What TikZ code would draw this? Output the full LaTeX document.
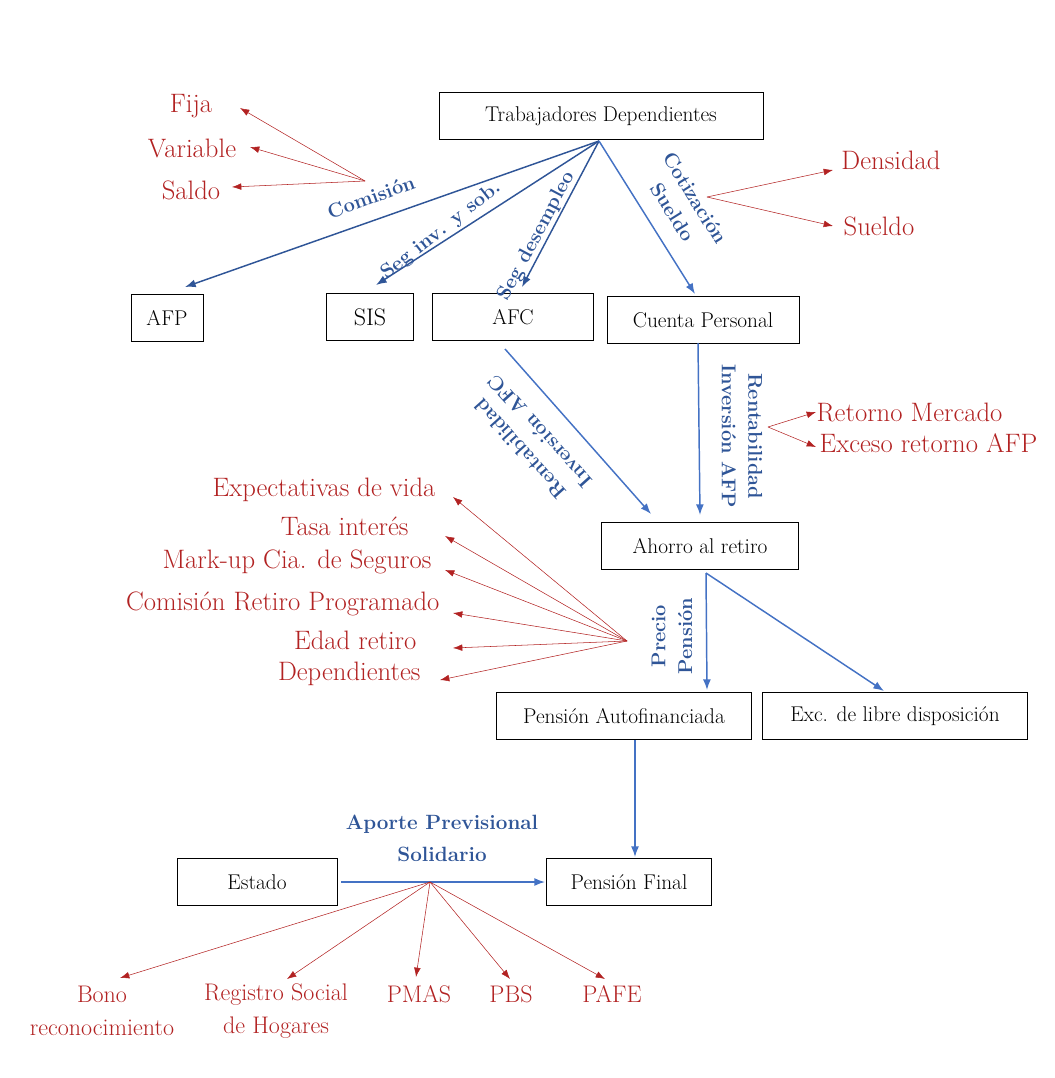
\documentclass[tikz,border=0pt]{standalone}
\usetikzlibrary{arrows.meta}
\definecolor{rd}{HTML}{B22222}
\definecolor{db}{HTML}{2F5597}
\definecolor{lb}{HTML}{4472C4}
\begin{document}
\begin{tikzpicture}[x=0.75pt,y=-0.75pt,
 box/.style={draw,thin,inner sep=0pt,font=\fontsize{16}{18}\selectfont},
 rt/.style={text=rd,font=\fontsize{20}{24}\selectfont,inner sep=1pt},
 bl/.style={text=db,font=\fontsize{15}{20}\selectfont\bfseries,align=center,inner sep=0pt},
 ra/.style={draw=rd,thin,-{Latex[length=7pt,width=5pt]}},
 da/.style={draw=db,line width=1.1pt,-{Latex[length=8pt,width=6pt]}},
 la/.style={draw=lb,line width=1.1pt,-{Latex[length=8pt,width=6pt]}}]
\useasboundingbox (0,0) rectangle (1054,1078);
\node[box,minimum width=243pt,minimum height=35pt] (td) at (601,116) {Trabajadores Dependientes};
\node[box,minimum width=54pt,minimum height=35pt] (afp) at (167,318) {AFP};
\node[box,minimum width=65pt,minimum height=35pt,font=\fontsize{18}{20}\selectfont] (sis) at (370,317) {SIS};
\node[box,minimum width=121pt,minimum height=35pt] (afc) at (513,317) {AFC};
\node[box,minimum width=144pt,minimum height=35pt] (cp) at (703,320) {Cuenta Personal};
\node[box,minimum width=148pt,minimum height=35pt] (ar) at (700,546) {Ahorro al retiro};
\node[box,minimum width=191pt,minimum height=35pt] (pa) at (624,716) {Pensión Autofinanciada};
\node[box,minimum width=199pt,minimum height=35pt] (ex) at (895,716) {Exc. de libre disposición};
\node[box,minimum width=120pt,minimum height=35pt] (es) at (257,882) {Estado};
\node[box,minimum width=124pt,minimum height=35pt] (pf) at (629,882) {Pensión Final};

\coordinate (o) at (599,141);
\coordinate (a1) at (185,287); \coordinate (a2) at (376,285); \coordinate (a3) at (522,287); \coordinate (a4) at (695,294);
\draw[da] (o) -- (a1); \draw[da] (o) -- (a2); \draw[da] (o) -- (a3); \draw[la] (o) -- (a4);
\coordinate (c1) at (698,343); \coordinate (c2) at (700,515);
\draw[la] (c1) -- (c2);
\coordinate (f1) at (505,349); \coordinate (f2) at (651,514);
\draw[la] (f1) -- (f2);
\coordinate (h0) at (706,573); \coordinate (h1) at (707,690); \coordinate (h2) at (884,691);
\draw[la] (h0) -- (h1); \draw[la] (h0) -- (h2);
\coordinate (p0) at (635,740); \coordinate (p1) at (635,857);
\draw[la] (p0) -- (p1);
\coordinate (e0) at (341,882); \coordinate (e1) at (545,882);
\draw[la] (e0) -- (e1);

\node[bl,rotate=20] at (371,197) {Comisión};
\node[bl,rotate=38] at (441,231) {Seg inv. y sob.};
\node[bl,rotate=62] at (537,236) {Seg desempleo};
\node[bl,rotate=-58] at (684,205) {Cotización\\Sueldo};
\node[bl,rotate=132] at (530,440) {Rentabilidad\\Inversión AFC};
\node[bl,rotate=-90] at (742,436) {Rentabilidad\\Inversión AFP};
\node[bl,rotate=90] at (672,636) {Precio\\Pensión};
\node[bl,font=\fontsize{15.5}{24}\selectfont\bfseries] at (442,838) {Aporte Previsional\\Solidario};

% red
\coordinate (r1) at (365,181);
\node[rt] (fija) at (191,106) {Fija};
\node[rt] (var) at (192,148) {Variable};
\node[rt] (sal) at (191,190) {Saldo};
\coordinate (t1) at (240,108); \coordinate (t2) at (250,147); \coordinate (t3) at (232,187);
\draw[ra] (r1) -- (t1); \draw[ra] (r1) -- (t2); \draw[ra] (r1) -- (t3);

\coordinate (r2) at (707,197);
\node[rt] (den) at (891,160) {Densidad};
\node[rt] (sue) at (879,226) {Sueldo};
\coordinate (t4) at (833,170); \coordinate (t5) at (833,226);
\draw[ra] (r2) -- (t4); \draw[ra] (r2) -- (t5);

\coordinate (r3) at (768,427);
\node[rt,anchor=west] (ret) at (815,412) {Retorno Mercado};
\node[rt,anchor=west] (exc) at (818,443) {Exceso retorno AFP};
\coordinate (t6) at (816,412); \coordinate (t7) at (816,447);
\draw[ra] (r3) -- (t6); \draw[ra] (r3) -- (t7);

\coordinate (r4) at (627,641);
\node[rt,anchor=east] at (437,490) {Expectativas de vida};
\node[rt,anchor=east] at (410,526) {Tasa interés};
\node[rt,anchor=east] at (433,562) {Mark-up Cia. de Seguros};
\node[rt,anchor=east] at (441,604) {Comisión Retiro Programado};
\node[rt,anchor=east] at (418,640) {Edad retiro};
\node[rt,anchor=east] at (422,674) {Dependientes};
\coordinate (u1) at (453,497); \coordinate (u2) at (445,536); \coordinate (u3) at (445,570);
\coordinate (u4) at (453,613); \coordinate (u5) at (453,648); \coordinate (u6) at (440,680);
\foreach \u in {u1,u2,u3,u4,u5,u6} \draw[ra] (r4) -- (\u);

\coordinate (r5) at (430,882);
\node[rt,align=center,font=\fontsize{18}{25}\selectfont] at (102,1011) {Bono\\reconocimiento};
\node[rt,align=center,font=\fontsize{18}{25}\selectfont] at (276,1011) {Registro Social\\de Hogares};
\node[rt,font=\fontsize{18}{20}\selectfont] at (419,994) {PMAS};
\node[rt,font=\fontsize{18}{20}\selectfont] at (511,994) {PBS};
\node[rt,font=\fontsize{18}{20}\selectfont] at (612,994) {PAFE};
\coordinate (v1) at (120,978); \coordinate (v2) at (287,979); \coordinate (v3) at (416,977);
\coordinate (v4) at (510,979); \coordinate (v5) at (605,979);
\foreach \v in {v1,v2,v3,v4,v5} \draw[ra] (r5) -- (\v);
\end{tikzpicture}
\end{document}
